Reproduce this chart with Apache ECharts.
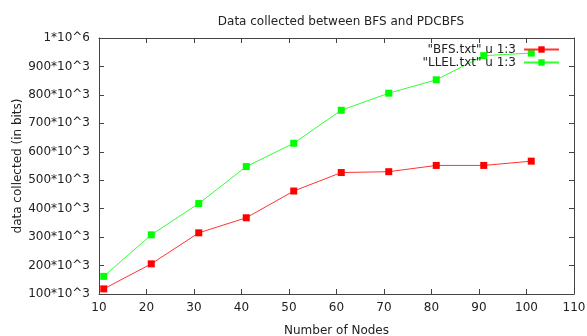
<!DOCTYPE html>
<html><head><meta charset="utf-8">
<script src="https://cdn.jsdelivr.net/npm/echarts@6/dist/echarts.min.js"></script>
<style>html,body{margin:0;padding:0;background:#fff}#c{width:587px;height:336px}</style>
</head><body><div id="c"></div>
<script>
var nodes = [11, 21, 31, 41, 51, 61, 71, 81, 91, 101];
var bfs  = [118000, 206000, 315000, 368000, 462000, 527000, 530000, 552000, 552000, 567000];
var llel = [162000, 308000, 418000, 548000, 630000, 746000, 806000, 853000, 938000, 947000];
var xTicks = [10, 20, 30, 40, 50, 60, 70, 80, 90, 100, 110];
var yTickLabels = {100000:'100*10^3',200000:'200*10^3',300000:'300*10^3',400000:'400*10^3',500000:'500*10^3',600000:'600*10^3',700000:'700*10^3',800000:'800*10^3',900000:'900*10^3',1000000:'1*10^6'};

var FONT = 'DejaVu Sans';
var FS = 12;
var TXT = '#222';
var AX = '#444';
function pairs(xs, ys){ return xs.map(function(x,i){return [x, ys[i]];}); }

var chart = echarts.init(document.getElementById('c'));
chart.setOption({
  animation: false,
  textStyle: {fontFamily: FONT},
  title: {text: 'Data collected between BFS and PDCBFS', left: 336, textAlign: 'center', top: 11,
          textStyle: {fontFamily: FONT, fontSize: FS, fontWeight: 'normal', color: TXT}},
  legend: {orient: 'vertical', right: 27, top: 43, align: 'right', itemWidth: 35, itemHeight: 8, itemGap: 0,
           padding: 0,
           textStyle: {fontFamily: FONT, fontSize: FS, color: TXT, lineHeight: 13, padding: [0, 3, 0, 0]},
           data: ['"BFS.txt" u 1:3', '"LLEL.txt" u 1:3']},
  grid: {left: 99, right: 13, top: 38, bottom: 42, outerBoundsMode: 'none', containLabel: false},
  xAxis: [{type: 'value', min: xTicks[0], max: xTicks[xTicks.length-1], interval: 10,
           name: 'Number of Nodes', nameLocation: 'middle', nameGap: 31, nameMoveOverlap: false,
           nameTextStyle: {fontFamily: FONT, fontSize: FS, color: TXT},
           axisLine: {show: true, lineStyle: {color: AX, width: 1}},
           axisTick: {inside: true, length: 5, lineStyle: {color: AX}},
           axisLabel: {fontFamily: FONT, fontSize: FS, color: TXT, margin: 8},
           splitLine: {show: false}},
          {type: 'value', position: 'top', min: xTicks[0], max: xTicks[xTicks.length-1], interval: 10,
           axisLine: {show: true, onZero: false, lineStyle: {color: AX, width: 1}},
           axisTick: {inside: true, length: 5, lineStyle: {color: AX}},
           axisLabel: {show: false}, splitLine: {show: false}}],
  yAxis: [{type: 'value', min: 100000, max: 1000000, interval: 100000,
           name: 'data collected (in bits)', nameLocation: 'middle', nameGap: 75, nameRotate: 90, nameMoveOverlap: false,
           nameTextStyle: {fontFamily: FONT, fontSize: FS, color: TXT},
           axisLine: {show: true, lineStyle: {color: AX, width: 1}},
           axisTick: {inside: true, length: 5, lineStyle: {color: AX}},
           axisLabel: {fontFamily: FONT, fontSize: FS, color: TXT, margin: 9,
                       formatter: function(v){ return yTickLabels[v] || ''; }},
           splitLine: {show: false}},
          {type: 'value', position: 'right', min: 100000, max: 1000000, interval: 100000,
           axisLine: {show: true, onZero: false, lineStyle: {color: AX, width: 1}},
           axisTick: {inside: true, length: 5, lineStyle: {color: AX}},
           axisLabel: {show: false}, splitLine: {show: false}}],
  series: [
    {name: '"BFS.txt" u 1:3', type: 'line', data: pairs(nodes, bfs), symbol: 'rect', symbolSize: 7,
     lineStyle: {color: '#ff3333', width: 1}, itemStyle: {color: '#ff0000'}},
    {name: '"LLEL.txt" u 1:3', type: 'line', data: pairs(nodes, llel), symbol: 'rect', symbolSize: 7,
     lineStyle: {color: '#33ff33', width: 1}, itemStyle: {color: '#00ff00'}}
  ]
});
</script></body></html>
